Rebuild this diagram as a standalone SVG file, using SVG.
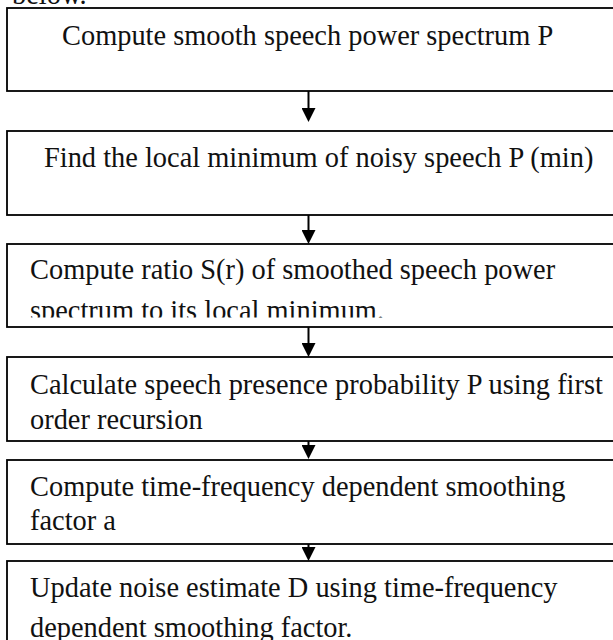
<svg xmlns="http://www.w3.org/2000/svg" width="613" height="640" viewBox="0 0 613 640">
<style>
.box{fill:#fff;stroke:#000;stroke-width:1.8}
.t{font-family:"Liberation Serif","Times New Roman",serif;font-size:28.4px;fill:#111}
.c{stroke:#000;stroke-width:2;fill:none}
</style>
<defs>
<marker id="ah" markerUnits="userSpaceOnUse" markerWidth="14" markerHeight="14" refX="6" refY="7" orient="auto">
<path d="M0,0 L14,7 L0,14 z" fill="#000"/>
</marker>
<clipPath id="clip3"><rect x="0" y="244" width="613" height="73.5"/></clipPath>
</defs>
<text class="t" x="12" y="4">below.</text>
<g id="n1"><rect class="box" x="7" y="8" width="620" height="83"/><text class="t" x="62" y="45">Compute smooth speech power spectrum P</text></g>
<g id="n2"><rect class="box" x="7" y="131" width="620" height="84"/><text class="t" x="44" y="167">Find the local minimum of noisy speech P (min)</text></g>
<g id="n3"><rect class="box" x="7" y="244" width="620" height="83"/><g clip-path="url(#clip3)"><text class="t" x="30" y="279">Compute ratio S(r) of smoothed speech power</text><text class="t" x="30" y="320">spectrum to its local minimum.</text></g></g>
<g id="n4"><rect class="box" x="7" y="357" width="620" height="84"/><text class="t" x="30" y="394">Calculate speech presence probability P using first</text><text class="t" x="30" y="429">order recursion</text></g>
<g id="n5"><rect class="box" x="7" y="460" width="620" height="84"/><text class="t" x="30" y="496">Compute time-frequency dependent smoothing</text><text class="t" x="30" y="530">factor a</text></g>
<g id="n6"><rect class="box" x="7" y="561" width="620" height="100"/><text class="t" x="30" y="597">Update noise estimate D using time-frequency</text><text class="t" x="30" y="637">dependent smoothing factor.</text></g>
<g id="connectors">
<line class="c" x1="308.5" y1="91" x2="308.5" y2="114" marker-end="url(#ah)"/>
<line class="c" x1="308.5" y1="215" x2="308.5" y2="236" marker-end="url(#ah)"/>
<line class="c" x1="308.5" y1="327" x2="308.5" y2="349" marker-end="url(#ah)"/>
<line class="c" x1="308.5" y1="441" x2="308.5" y2="451" marker-end="url(#ah)"/>
<line class="c" x1="308.5" y1="544" x2="308.5" y2="553" marker-end="url(#ah)"/>
</g>
</svg>
